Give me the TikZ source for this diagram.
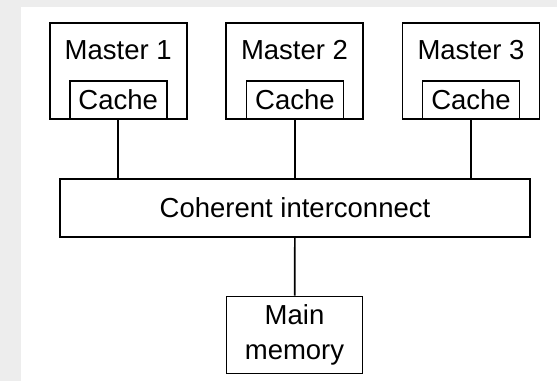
\documentclass[tikz,border=0pt]{standalone}
\usepackage{fontspec}
\setmainfont{Liberation Sans}
\begin{document}
\begin{tikzpicture}[x=1pt,y=-1pt,line width=1.7pt,
  every node/.style={font=\fontsize{27.5}{35}\selectfont},
  master/.style={shape=rectangle,draw=black,fill=white,minimum width=137pt,minimum height=96pt,inner sep=0pt},
  cache/.style={shape=rectangle,draw=black,fill=white,minimum width=97pt,minimum height=38pt,inner sep=0pt},
  bigbox/.style={shape=rectangle,draw=black,fill=white,inner sep=0pt,align=center}]
\useasboundingbox (0,0) rectangle (557,381);
\fill[gray!14] (0,0) rectangle (557,381);
\fill[white] (21,7) rectangle (557,381);
\node (m1) at (118.2,70.7) [master] {};
\node (m2) at (294.5,70.7) [master] {};
\node (m3) at (471,70.7) [master] {};
\node (t1) at (118.2,50) {Master 1};
\node (t2) at (294.5,50) {Master 2};
\node (t3) at (471,50) {Master 3};
\node (c1) at (118.2,99.8) [cache] {Cache};
\node (c2) at (294.9,99.8) [cache] {Cache};
\node (c3) at (471,99.8) [cache] {Cache};
\node (ic) at (295,208) [bigbox,minimum width=470pt,minimum height=58pt] {Coherent interconnect};
\node (mem) at (294.5,335) [bigbox,minimum width=136pt,minimum height=77pt] {Main\\memory};
\draw (c1.south) -- (c1.south |- ic.north);
\draw (c2.south) -- (c2.south |- ic.north);
\draw (c3.south) -- (c3.south |- ic.north);
\draw (ic) -- (mem);
\end{tikzpicture}
\end{document}
